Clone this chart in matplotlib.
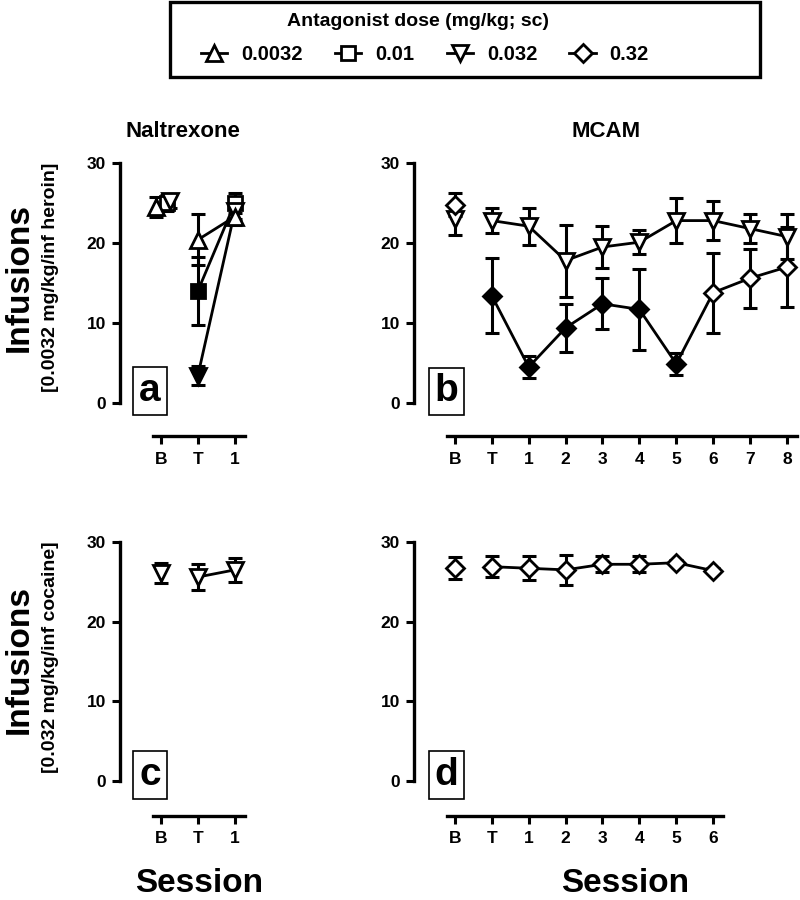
import matplotlib
matplotlib.use('Agg')
import matplotlib.pyplot as plt
from matplotlib.lines import Line2D
from matplotlib.patches import Rectangle

plt.rcParams['font.family'] = ['Liberation Sans', 'DejaVu Sans']
plt.rcParams['font.weight'] = 'bold'

doses = ['0.0032', '0.01', '0.032', '0.32']

# panel a: naltrexone, heroin
ticks_a = ['B', 'T', '1']
up_a = [24.5, 20.4, 23.3]
up_a_err = [1.2, 3.2, 1.0]
up_a_sig = [False, False, False]
sq_a = [25.0, 14.0, 25.0]
sq_a_err = [1.0, 4.3, 1.2]
sq_a_sig = [False, True, False]
dn_a = [25.2, 3.4, 24.0]
dn_a_err = [0.8, 1.2, 1.0]
dn_a_sig = [False, True, False]

# panel b: MCAM, heroin
ticks_b = ['B', 'T', '1', '2', '3', '4', '5', '6', '7', '8']
dn_b = [23.0, 22.8, 22.1, 17.8, 19.5, 20.1, 22.8, 22.8, 21.8, 20.8]
dn_b_err = [2.0, 1.6, 2.3, 4.5, 2.6, 1.5, 2.8, 2.4, 1.8, 2.8]
dn_b_sig = [False] * 10
dm_b = [24.8, 13.4, 4.5, 9.4, 12.4, 11.7, 4.9, 13.8, 15.6, 17.0]
dm_b_err = [1.4, 4.7, 1.4, 3.0, 3.2, 5.1, 1.4, 5.0, 3.7, 5.0]
dm_b_sig = [False, True, True, True, True, True, True, False, False, False]

# panel c: naltrexone, cocaine
ticks_c = ['B', 'T', '1']
dn_c = [26.1, 25.6, 26.5]
dn_c_err = [1.2, 1.6, 1.5]
dn_c_sig = [False, False, False]

# panel d: MCAM, cocaine
ticks_d = ['B', 'T', '1', '2', '3', '4', '5', '6']
dm_d = [26.7, 26.9, 26.7, 26.5, 27.2, 27.2, 27.4, 26.4]
dm_d_err = [1.4, 1.3, 1.5, 1.9, 1.0, 1.0, 0.3, 0.3]
dm_d_sig = [False] * 8

markers = {'0.0032': ('^', 12), '0.01': ('s', 10), '0.032': ('v', 12), '0.32': ('D', 9)}


def draw_series(ax, y, err, sig, dose, b_shift=0.0):
    x = [i + (b_shift if i == 0 else 0) for i in range(len(y))]
    m, ms = markers[dose]
    ax.errorbar(x, y, yerr=err, fmt='none', ecolor='k', elinewidth=2.2,
                capsize=5, capthick=2.2, zorder=2, clip_on=False)
    ax.plot(x[1:], y[1:], '-', color='k', lw=2, zorder=3, clip_on=False)
    for xi, yi, s in zip(x, y, sig):
        ax.plot(xi, yi, marker=m, ms=ms, mfc='k' if s else 'w', mec='k',
                mew=2, zorder=4, clip_on=False)


def style_axes(ax, ticks, letter, offset, lab_x, lab_y):
    ax.set_ylim(0, 30)
    ax.set_yticks([0, 10, 20, 30])
    ax.set_xticks(range(len(ticks)))
    ax.set_xticklabels(ticks)
    for s in ['top', 'right']:
        ax.spines[s].set_visible(False)
    ax.spines['left'].set_linewidth(2.4)
    ax.spines['bottom'].set_linewidth(2.4)
    ax.spines['bottom'].set_position(('outward', offset))
    ax.spines['bottom'].set_bounds(-0.21, len(ticks) - 1 + 0.28)
    ax.tick_params(width=2.2, length=6, labelsize=12.5, pad=4)
    ax.tick_params(axis='x', pad=5)
    ax.text(lab_x, lab_y, letter, transform=ax.transAxes, fontsize=28,
            ha='center', va='center', fontweight='bold',
            bbox=dict(boxstyle='square,pad=0.15', fc='w', ec='k', lw=1.2))


fig = plt.figure(figsize=(8, 9), dpi=100)
ax_a = fig.add_axes([0.15, 0.5522, 0.1575, 0.2667])
ax_b = fig.add_axes([0.5175, 0.5522, 0.48, 0.2667])
ax_c = fig.add_axes([0.15, 0.1322, 0.1575, 0.2656])
ax_d = fig.add_axes([0.5175, 0.1322, 0.48, 0.2656])

ax_a.set_xlim(-1.1, 2.3)
ax_c.set_xlim(-1.1, 2.3)
ax_b.set_xlim(-1.11, 9.3)
ax_d.set_xlim(-1.11, 9.3)

draw_series(ax_a, sq_a, sq_a_err, sq_a_sig, '0.01', 0.16)
draw_series(ax_a, dn_a, dn_a_err, dn_a_sig, '0.032', 0.26)
draw_series(ax_a, up_a, up_a_err, up_a_sig, '0.0032', -0.12)
draw_series(ax_b, dn_b, dn_b_err, dn_b_sig, '0.032')
draw_series(ax_b, dm_b, dm_b_err, dm_b_sig, '0.32')
draw_series(ax_c, dn_c, dn_c_err, dn_c_sig, '0.032')
draw_series(ax_d, dm_d, dm_d_err, dm_d_sig, '0.32')

style_axes(ax_a, ticks_a, 'a', 24, 0.238, 0.05)
style_axes(ax_b, ticks_b, 'b', 24, 0.085, 0.048)
style_axes(ax_c, ticks_c, 'c', 25, 0.238, 0.025)
style_axes(ax_d, ticks_d, 'd', 25, 0.085, 0.025)

ax_a.set_title('Naltrexone', fontsize=16, fontweight='bold', pad=19)
ax_b.set_title('MCAM', fontsize=16, fontweight='bold', pad=19)

fig.text(19 / 800, 1 - 278 / 900, 'Infusions', rotation=90, fontsize=24,
         ha='center', va='center', fontweight='bold')
fig.text(51 / 800, 1 - 277 / 900, '[0.0032 mg/kg/inf heroin]', rotation=90,
         fontsize=14, ha='center', va='center', fontweight='bold')
fig.text(19 / 800, 1 - 660 / 900, 'Infusions', rotation=90, fontsize=24,
         ha='center', va='center', fontweight='bold')
fig.text(51 / 800, 1 - 657 / 900, '[0.032 mg/kg/inf cocaine]', rotation=90,
         fontsize=14, ha='center', va='center', fontweight='bold')
fig.text(199 / 800, 1 - 883 / 900, 'Session', fontsize=24, ha='center',
         va='center', fontweight='bold')
fig.text(625 / 800, 1 - 883 / 900, 'Session', fontsize=24, ha='center',
         va='center', fontweight='bold')

# legend: title and entries placed separately inside a plain box
fig.text(418 / 800, 1 - 22 / 900, 'Antagonist dose (mg/kg; sc)', fontsize=14,
         ha='center', va='center', fontweight='bold')
handles = []
for d in doses:
    m, ms = markers[d]
    handles.append(Line2D([], [], color='k', lw=2, marker=m, ms=ms,
                          mfc='w', mec='k', mew=2))
fig.legend(handles, doses, loc='center', ncol=4,
           bbox_to_anchor=(425 / 800, 1 - 55 / 900),
           prop={'weight': 'bold', 'size': 14.5}, frameon=False,
           handlelength=1.3, handletextpad=0.7, columnspacing=1.6,
           borderpad=0.1, numpoints=1)
fig.add_artist(Rectangle((170 / 800, 1 - 77 / 900), 590 / 800, 75 / 900,
                         transform=fig.transFigure, fill=False, ec='k',
                         lw=2.4))

fig.savefig('out.png', dpi=100)
